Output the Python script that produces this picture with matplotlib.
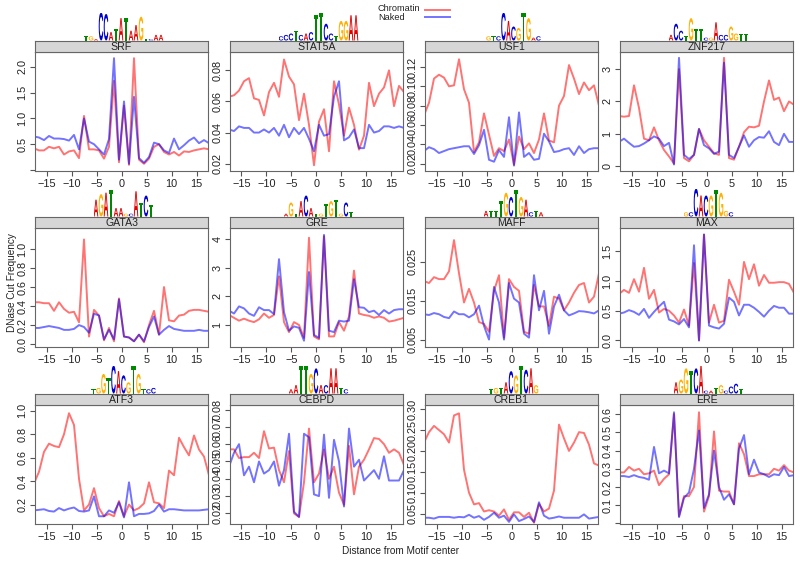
import numpy as np
import matplotlib
matplotlib.use('Agg')
from matplotlib import pyplot as plt
from matplotlib.textpath import TextPath
from matplotlib.patches import PathPatch
from matplotlib.font_manager import FontProperties
from matplotlib.transforms import Affine2D

plt.rcParams['font.family'] = ['Liberation Sans', 'DejaVu Sans']

# distance from motif center (half-integer positions)
x = np.arange(-17.5, 18.0, 1.0)

names = ['SRF', 'STAT5A', 'USF1', 'ZNF217',
         'GATA3', 'GRE', 'MAFF', 'MAX',
         'ATF3', 'CEBPD', 'CREB1', 'ERE']

srf_chrom = [0.42, 0.38, 0.38, 0.45, 0.42, 0.45, 0.30, 0.36, 0.38, 0.23, 1.05, 0.40,
             0.40, 0.38, 0.22, 0.45, 1.73, 0.15, 1.25, 0.10, 2.17, 0.20, 0.12, 0.22,
             0.45, 0.50, 0.35, 0.30, 0.35, 0.28, 0.36, 0.35, 0.38, 0.40, 0.42, 0.40]
srf_naked = [0.65, 0.63, 0.58, 0.66, 0.61, 0.61, 0.60, 0.57, 0.68, 0.40, 1.00, 0.55,
             0.50, 0.40, 0.30, 0.60, 2.17, 0.20, 1.33, 0.12, 1.42, 0.23, 0.14, 0.25,
             0.53, 0.50, 0.38, 0.33, 0.61, 0.40, 0.48, 0.57, 0.63, 0.52, 0.58, 0.52]

stat5a_chrom = [0.063, 0.064, 0.067, 0.073, 0.075, 0.062, 0.061, 0.051, 0.066, 0.072, 0.063, 0.087,
                0.076, 0.071, 0.048, 0.065, 0.045, 0.019, 0.047, 0.055, 0.028, 0.073, 0.058, 0.038,
                0.056, 0.045, 0.029, 0.038, 0.072, 0.057, 0.065, 0.069, 0.080, 0.057, 0.070, 0.066]
stat5a_naked = [0.042, 0.041, 0.044, 0.043, 0.043, 0.040, 0.040, 0.042, 0.040, 0.043, 0.038, 0.045,
                0.037, 0.043, 0.039, 0.043, 0.036, 0.028, 0.045, 0.038, 0.039, 0.063, 0.073, 0.035,
                0.037, 0.042, 0.030, 0.030, 0.045, 0.040, 0.041, 0.044, 0.044, 0.043, 0.044, 0.043]

usf1_chrom = [0.070, 0.083, 0.108, 0.112, 0.109, 0.100, 0.101, 0.128, 0.097, 0.083, 0.032, 0.042,
              0.072, 0.050, 0.028, 0.036, 0.033, 0.045, 0.019, 0.048, 0.035, 0.041, 0.031, 0.045,
              0.072, 0.044, 0.042, 0.080, 0.090, 0.122, 0.108, 0.092, 0.104, 0.096, 0.101, 0.080]
usf1_naked = [0.033, 0.037, 0.035, 0.031, 0.033, 0.035, 0.036, 0.037, 0.038, 0.038, 0.030, 0.039,
              0.055, 0.024, 0.022, 0.034, 0.027, 0.068, 0.018, 0.073, 0.027, 0.031, 0.024, 0.025,
              0.051, 0.043, 0.032, 0.033, 0.035, 0.036, 0.029, 0.038, 0.031, 0.035, 0.036, 0.036]

znf217_chrom = [1.55, 1.53, 1.55, 2.50, 1.80, 0.85, 0.80, 1.20, 0.80, 0.50, 0.30, 0.08,
                3.00, 0.25, 0.15, 0.35, 1.15, 0.80, 0.60, 0.40, 0.35, 3.35, 0.25, 0.20,
                0.60, 1.05, 1.22, 1.20, 1.25, 2.00, 2.65, 2.05, 2.12, 1.70, 2.00, 1.90]
znf217_naked = [0.75, 0.85, 0.72, 0.60, 0.62, 0.70, 0.80, 0.92, 0.85, 0.62, 0.72, 0.05,
                3.35, 0.35, 0.22, 0.35, 1.15, 0.65, 0.55, 0.38, 0.45, 3.20, 0.35, 0.25,
                0.60, 0.95, 0.60, 0.80, 0.90, 0.88, 1.08, 0.75, 0.65, 1.00, 0.75, 0.75]

gata3_chrom = [0.44, 0.44, 0.43, 0.43, 0.35, 0.44, 0.37, 0.33, 0.34, 0.23, 1.10, 0.08,
               0.36, 0.30, 0.04, 0.17, 0.03, 0.48, 0.08, 0.07, 0.03, 0.10, 0.02, 0.20,
               0.35, 0.10, 0.60, 0.25, 0.24, 0.30, 0.31, 0.35, 0.36, 0.36, 0.35, 0.34]
gata3_naked = [0.17, 0.17, 0.18, 0.19, 0.18, 0.17, 0.15, 0.15, 0.16, 0.20, 0.18, 0.12,
               0.32, 0.30, 0.05, 0.15, 0.05, 0.47, 0.08, 0.07, 0.03, 0.10, 0.03, 0.18,
               0.29, 0.10, 0.15, 0.19, 0.16, 0.15, 0.14, 0.14, 0.14, 0.15, 0.14, 0.14]

gre_chrom = [1.35, 1.25, 1.15, 1.22, 1.15, 1.10, 1.20, 1.40, 1.25, 1.35, 2.70, 1.10,
             0.75, 1.10, 1.00, 0.55, 4.05, 0.60, 0.50, 4.10, 0.60, 0.60, 1.10, 0.80,
             1.30, 2.90, 1.40, 1.35, 1.32, 1.25, 1.30, 1.25, 1.12, 1.15, 1.20, 1.25]
gre_naked = [1.50, 1.40, 1.65, 1.58, 1.40, 1.32, 1.62, 1.52, 1.52, 1.38, 3.30, 1.45,
             0.80, 0.95, 0.90, 0.45, 2.85, 0.65, 0.55, 4.15, 0.80, 0.75, 1.15, 1.12,
             1.15, 2.60, 1.62, 1.60, 1.45, 1.50, 1.35, 1.52, 1.40, 1.52, 1.55, 1.55]

maff_chrom = [0.0200, 0.0195, 0.0210, 0.0205, 0.0205, 0.0225, 0.0305, 0.0220, 0.0145, 0.0180, 0.0145, 0.0095,
              0.0090, 0.0070, 0.0175, 0.0215, 0.0055, 0.0205, 0.0185, 0.0175, 0.0070, 0.0065, 0.0190, 0.0135,
              0.0135, 0.0085, 0.0160, 0.0155, 0.0125, 0.0145, 0.0170, 0.0190, 0.0195, 0.0145, 0.0160, 0.0220]
maff_naked = [0.0115, 0.0113, 0.0118, 0.0115, 0.0108, 0.0105, 0.0122, 0.0115, 0.0115, 0.0107, 0.0115, 0.0137,
              0.0085, 0.0050, 0.0185, 0.0145, 0.0050, 0.0195, 0.0155, 0.0145, 0.0065, 0.0055, 0.0215, 0.0125,
              0.0175, 0.0065, 0.0135, 0.0165, 0.0125, 0.0112, 0.0117, 0.0123, 0.0122, 0.0120, 0.0117, 0.0125]

max_chrom = [0.78, 0.85, 0.80, 1.03, 0.82, 1.22, 0.70, 0.85, 0.47, 0.53, 0.50, 0.42,
             0.30, 0.52, 0.25, 1.30, 0.00, 1.78, 0.30, 0.60, 0.30, 0.33, 1.02, 0.82,
             0.60, 1.32, 1.03, 1.28, 0.92, 1.10, 0.97, 0.97, 0.98, 0.98, 0.95, 0.80]
max_naked = [0.45, 0.47, 0.51, 0.48, 0.43, 0.53, 0.38, 0.48, 0.57, 0.65, 0.35, 0.32,
             0.27, 0.36, 0.22, 1.60, 0.00, 1.78, 0.25, 0.22, 0.20, 0.28, 0.72, 0.65,
             0.42, 0.60, 0.60, 0.55, 0.48, 0.40, 0.50, 0.58, 0.55, 0.55, 0.45, 0.45]

atf3_chrom = [0.38, 0.48, 0.65, 0.72, 0.70, 0.69, 0.80, 0.98, 0.88, 0.42, 0.15, 0.20,
              0.34, 0.17, 0.10, 0.12, 0.10, 0.23, 0.10, 0.20, 0.15, 0.17, 0.21, 0.39,
              0.22, 0.21, 0.17, 0.49, 0.45, 0.77, 0.69, 0.62, 0.79, 0.67, 0.61, 0.45]
atf3_naked = [0.150, 0.155, 0.160, 0.145, 0.140, 0.170, 0.150, 0.165, 0.175, 0.145, 0.140, 0.150,
              0.270, 0.100, 0.100, 0.150, 0.130, 0.220, 0.090, 0.390, 0.100, 0.120, 0.120, 0.125,
              0.145, 0.200, 0.140, 0.160, 0.160, 0.155, 0.150, 0.150, 0.150, 0.150, 0.155, 0.160]

cebpd_chrom = [0.057, 0.057, 0.052, 0.0525, 0.0525, 0.055, 0.052, 0.0675, 0.0575, 0.058, 0.045, 0.038,
               0.056, 0.020, 0.018, 0.038, 0.069, 0.038, 0.043, 0.057, 0.040, 0.047, 0.032, 0.025,
               0.059, 0.031, 0.047, 0.051, 0.057, 0.0635, 0.063, 0.060, 0.055, 0.057, 0.055, 0.048]
cebpd_naked = [0.047, 0.055, 0.060, 0.042, 0.047, 0.038, 0.050, 0.043, 0.045, 0.050, 0.036, 0.045,
               0.066, 0.021, 0.018, 0.066, 0.064, 0.031, 0.030, 0.0655, 0.029, 0.0625, 0.050, 0.024,
               0.069, 0.047, 0.051, 0.039, 0.042, 0.045, 0.040, 0.053, 0.039, 0.039, 0.039, 0.045]

creb1_chrom = [0.220, 0.245, 0.260, 0.250, 0.240, 0.220, 0.285, 0.290, 0.155, 0.100, 0.072, 0.075,
               0.055, 0.058, 0.055, 0.045, 0.060, 0.035, 0.053, 0.053, 0.042, 0.052, 0.028, 0.073,
               0.055, 0.062, 0.105, 0.263, 0.230, 0.200, 0.220, 0.245, 0.243, 0.215, 0.170, 0.165]
creb1_naked = [0.040, 0.040, 0.038, 0.042, 0.042, 0.042, 0.040, 0.042, 0.041, 0.047, 0.040, 0.044,
               0.035, 0.042, 0.052, 0.040, 0.045, 0.030, 0.048, 0.032, 0.037, 0.043, 0.030, 0.077,
               0.045, 0.038, 0.040, 0.043, 0.040, 0.040, 0.040, 0.040, 0.048, 0.038, 0.040, 0.042]

ere_chrom = [0.28, 0.28, 0.31, 0.29, 0.30, 0.27, 0.275, 0.29, 0.21, 0.245, 0.27, 0.60,
             0.04, 0.15, 0.15, 0.20, 0.61, 0.065, 0.15, 0.505, 0.18, 0.175, 0.175, 0.105,
             0.44, 0.38, 0.26, 0.26, 0.27, 0.27, 0.27, 0.30, 0.29, 0.32, 0.29, 0.28]
ere_naked = [0.26, 0.26, 0.255, 0.265, 0.255, 0.25, 0.24, 0.42, 0.275, 0.29, 0.275, 0.61,
             0.035, 0.14, 0.17, 0.30, 0.51, 0.085, 0.16, 0.40, 0.20, 0.13, 0.16, 0.105,
             0.41, 0.485, 0.27, 0.35, 0.28, 0.27, 0.255, 0.27, 0.265, 0.31, 0.26, 0.265]

chromatin = [srf_chrom, stat5a_chrom, usf1_chrom, znf217_chrom, gata3_chrom, gre_chrom,
             maff_chrom, max_chrom, atf3_chrom, cebpd_chrom, creb1_chrom, ere_chrom]
naked = [srf_naked, stat5a_naked, usf1_naked, znf217_naked, gata3_naked, gre_naked,
         maff_naked, max_naked, atf3_naked, cebpd_naked, creb1_naked, ere_naked]

yticks = [[0.0, 0.5, 1.0, 1.5, 2.0],
          [0.02, 0.04, 0.06, 0.08],
          [0.02, 0.04, 0.06, 0.08, 0.10, 0.12],
          [0, 1, 2, 3],
          [0.0, 0.2, 0.4, 0.6, 0.8, 1.0],
          [1, 2, 3, 4],
          [0.005, 0.015, 0.025],
          [0.0, 0.5, 1.0, 1.5],
          [0.2, 0.4, 0.6, 0.8, 1.0],
          [0.02, 0.03, 0.04, 0.05, 0.06, 0.07, 0.08],
          [0.05, 0.10, 0.15, 0.20, 0.25, 0.30],
          [0.0, 0.1, 0.2, 0.3, 0.4, 0.5, 0.6]]
ytick_fmt = ['%.1f', '%.2f', '%.2f', '%d', '%.1f', '%d', '%.3f', '%.1f', '%.1f', '%.2f', '%.2f', '%.1f']
hide_first = [True, False, False, False, False, False, False, False, False, False, False, True]
ylims = [(-0.02, 2.29), (0.0153, 0.0918), (0.0124, 0.1355), (-0.15, 3.53),
         (-0.03, 1.22), (0.23, 4.39), (0.0031, 0.0336), (-0.11, 1.89),
         (0.034, 1.05), (0.0139, 0.0826), (0.025, 0.31), (-0.003, 0.65)]

# sequence logos: letters and relative heights
logo_seqs = ['TGaCCATATAAGtcAA',
             'cccTcacTTCctGGAA',
             'gtcCACGTGac',
             'ACCTGTTcgaCcGGTT',
             'AGATAAgcATCT',
             'aGtACAtgTGTgCt',
             'attTGCTGActa',
             'gcCACGTGgc',
             'tgGTCACGTGtcc',
             'aATTGCACAATc',
             'tgtACGTCAG',
             'AGGTCAcaTGcCCT']
logo_heights = [[.15, .15, .05, 1.0, .95, .3, .4, .8, .8, .35, .55, .85, .05, .05, .2, .2],
                [.15, .2, .25, .35, .2, .25, .3, .9, 1.0, .6, .25, .15, .7, .7, .9, .9],
                [.15, .15, .15, 1.0, .7, .5, .45, 1.0, .8, .1, .15],
                [.2, .6, .35, .15, .8, .4, .4, .1, .1, .65, .2, .2, .5, .25, .25, .25],
                [.6, .8, .85, .95, .3, .3, .1, .1, .9, .5, .75, .4],
                [.1, .5, .1, .55, .75, .3, .1, .1, .45, .55, .6, .1, .5, .15],
                [.2, .2, .2, .55, .85, .7, .95, .7, .6, .15, .2, .15],
                [.15, .15, 1.0, .75, .75, .75, .95, .85, .2, .15],
                [.15, .2, .7, .55, 1.0, .8, .65, .4, 1.0, .7, .15, .15, .2],
                [.15, .3, 1.0, 1.0, .7, .9, .3, .3, .9, .9, .2, .15],
                [.15, .2, .2, .4, .8, .65, 1.0, .85, .9, .3],
                [.4, .5, .9, .8, .9, 1.0, .1, .1, .2, .3, .1, .25, .35, .15]]

letter_colors = {'A': '#e00000', 'C': '#0000cc', 'G': '#ffb000', 'T': '#008800'}
logo_font = FontProperties(family='Liberation Sans', weight='bold')


def px(l, t, w, h):
    return [l / 800, 1 - (t + h) / 561, w / 800, h / 561]


def draw_logo(ax, seq, hts):
    for i, (ch, h) in enumerate(zip(seq, hts)):
        c = ch.upper()
        tp = TextPath((0, 0), c, size=1, prop=logo_font)
        bb = tp.get_extents()
        tr = Affine2D().translate(-bb.x0, -bb.y0).scale(0.92 / bb.width, h / bb.height).translate(i + 0.04, 0)
        ax.add_patch(PathPatch(tr.transform_path(tp), facecolor=letter_colors[c], lw=0))
    ax.set_xlim(0, len(seq))
    ax.set_ylim(0, 1)
    ax.axis('off')


fig = plt.figure(figsize=(8, 5.61), dpi=100)

col_left = [35, 230, 425, 620]
row_top = [52, 228, 405]
panel_w = 173
panel_h = 119
strip_h = 11.5
logo_h = 28
col_w = 5.0

for k, name in enumerate(names):
    r, c = divmod(k, 4)
    l, t = col_left[c], row_top[r]
    ax = fig.add_axes(px(l, t, panel_w, panel_h))
    ax.plot(x, chromatin[k], color='red', alpha=0.55, lw=1.4)
    ax.plot(x, naked[k], color='blue', alpha=0.55, lw=1.4)
    ax.set_xlim(-17.3, 17.3)
    ax.set_ylim(*ylims[k])
    ax.set_xticks([-15, -10, -5, 0, 5, 10, 15])
    ax.set_yticks(yticks[k])
    labels = [ytick_fmt[k] % v for v in yticks[k]]
    if hide_first[k]:
        labels[0] = ''
    ax.set_yticklabels(labels, rotation=90, va='center')
    ax.tick_params(direction='out', length=3.5, width=0.8, color='#555555',
                   labelsize=7.8, labelcolor='#222222', pad=2)
    for s in ax.spines.values():
        s.set_color('#666666')
        s.set_linewidth(0.8)

    sax = fig.add_axes(px(l, t - strip_h, panel_w, strip_h))
    sax.set_facecolor('#d6d6d6')
    sax.set_xticks([])
    sax.set_yticks([])
    for s in sax.spines.values():
        s.set_color('#666666')
        s.set_linewidth(0.8)
    sax.text(0.5, 0.5, name, ha='center', va='center_baseline', fontsize=7.6, color='#222222',
             transform=sax.transAxes)

    seq = logo_seqs[k]
    lw_px = col_w * len(seq)
    lax = fig.add_axes(px(l + panel_w / 2 - lw_px / 2 + 2, t - strip_h - logo_h, lw_px, logo_h))
    draw_logo(lax, seq, logo_heights[k])

# legend
fig.text(378 / 800, 1 - 8.5 / 561, 'Chromatin', fontsize=6.6, va='center', color='#222222')
fig.text(378 / 800, 1 - 17.5 / 561, 'Naked', fontsize=6.6, va='center', color='#222222')
fig.add_artist(plt.Line2D([425 / 800, 450 / 800], [1 - 9.5 / 561] * 2, color='red', alpha=0.55, lw=1.4))
fig.add_artist(plt.Line2D([425 / 800, 450 / 800], [1 - 17 / 561] * 2, color='blue', alpha=0.55, lw=1.4))

fig.text(12 / 800, 1 - 283 / 561, 'DNase Cut Frequency', rotation=90, ha='center', va='center',
         fontsize=7.2, color='#222222')
fig.text(400 / 800, 1 - 551 / 561, 'Distance from Motif center', ha='center', va='center',
         fontsize=7.2, color='#222222')

fig.savefig('out.png', dpi=100)
